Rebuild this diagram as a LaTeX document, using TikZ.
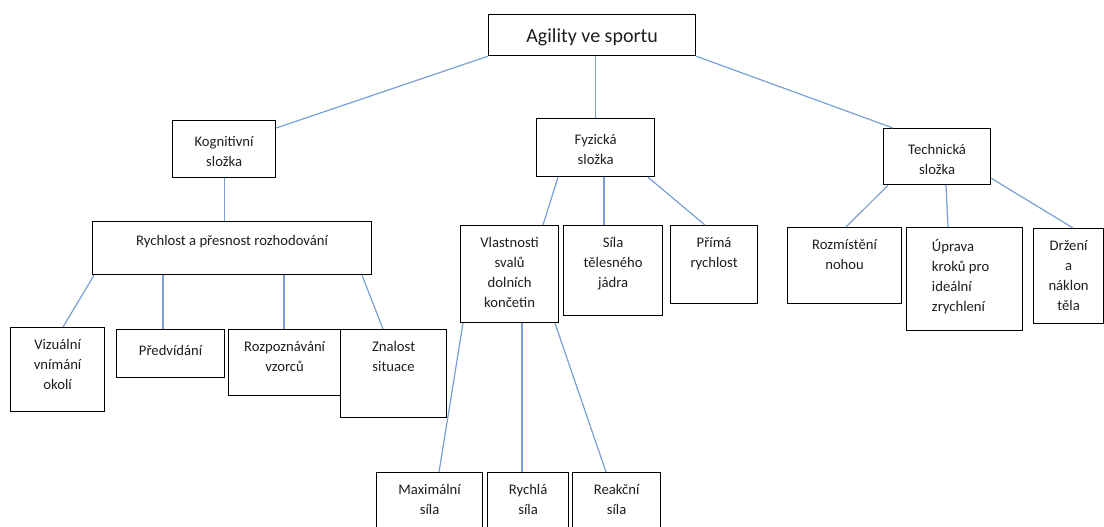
\documentclass[tikz,border=0pt]{standalone}
\usepackage{fontspec}
\setmainfont{Carlito}
\usetikzlibrary{calc}
\definecolor{linkblue}{RGB}{120,160,212}
\definecolor{textgray}{RGB}{30,30,30}
\begin{document}
\begin{tikzpicture}[x=0.75pt, y=-0.75pt,
    box/.style={draw, line width=0.9pt, anchor=north west, inner sep=0pt},
    txt/.style={anchor=north, align=center, inner sep=0pt, yshift=-9pt, text=textgray,
                font=\fontsize{11}{15}\selectfont, execute at begin node=\strut},
    link/.style={draw=linkblue, line width=0.9pt}]
    \useasboundingbox (0,0) rectangle (1104,526);
    \node[box, minimum width=155.25pt, minimum height=30.75pt,
          label={[anchor=base, yshift=-21pt, text=textgray, font=\fontsize{15}{18}\selectfont]north:Agility ve sportu}] (agi) at (488,14) {};
    \node[box, minimum width=77.25pt, minimum height=42.75pt,
          label={[txt, yshift=-3pt]north:Kognitivní\\složka}] (kog) at (172,120) {};
    \node[box, minimum width=88.5pt, minimum height=43.5pt,
          label={[txt, yshift=-3pt]north:Fyzická\\složka}] (fyz) at (536,118) {};
    \node[box, minimum width=80.25pt, minimum height=42pt,
          label={[txt, yshift=-3pt]north:Technická\\složka}] (tech) at (883,128) {};
    \node[box, minimum width=209.25pt, minimum height=39.75pt,
          label={[txt, yshift=1pt]north:Rychlost a přesnost rozhodování}] (rych) at (92,221) {};
    \node[box, minimum width=70.5pt, minimum height=63pt,
          label={[txt]north:Vizuální\\vnímání\\okolí}] (viz) at (10,327) {};
    \node[box, minimum width=81pt, minimum height=36pt,
          label={[txt]north:Předvídání}] (pred) at (116,329) {};
    \node[box, minimum width=84pt, minimum height=49.5pt,
          label={[txt]north:Rozpoznávání\\vzorců}] (roz) at (228,329) {};
    \node[box, minimum width=79.5pt, minimum height=66pt,
          label={[txt]north:Znalost\\situace}] (zna) at (340,329) {};
    \node[box, minimum width=73.5pt, minimum height=72.75pt,
          label={[txt]north:Vlastnosti\\svalů\\dolních\\končetin}] (vla) at (460,225) {};
    \node[box, minimum width=74.25pt, minimum height=67.5pt,
          label={[txt]north:Síla\\tělesného\\jádra}] (sil) at (563,225) {};
    \node[box, minimum width=65.25pt, minimum height=58.5pt,
          label={[txt]north:Přímá\\rychlost}] (pri) at (670,225) {};
    \node[box, minimum width=85.5pt, minimum height=57pt,
          label={[txt]north:Rozmístění\\nohou}] (rozm) at (787,227) {};
    \node[box, minimum width=87pt, minimum height=77.25pt,
          label={[txt, align=left, xshift=-3pt]north:Úprava\\kroků pro\\ideální\\zrychlení}] (upr) at (906,227) {};
    \node[box, minimum width=52.5pt, minimum height=71.25pt,
          label={[txt]north:Držení\\a\\náklon\\těla}] (drz) at (1033,228) {};
    \node[box, minimum width=79.5pt, minimum height=60pt,
          label={[txt]north:Maximální\\síla}] (max) at (376,472) {};
    \node[box, minimum width=60.75pt, minimum height=60pt,
          label={[txt]north:Rychlá\\síla}] (ryf) at (487,472) {};
    \node[box, minimum width=66pt, minimum height=60pt,
          label={[txt]north:Reakční\\síla}] (rea) at (572,472) {};
    % first level
    \path[link] (agi.south west) -- ($(kog.north east)+(0,8)$);
    \path[link] (fyz.north |- agi.south) -- (fyz.north);
    \path[link] (agi.south east) -- ($(tech.north west)+(10,0)$);
    % kognitivni
    \path[link] (kog.south) -- (kog.south |- rych.north);
    \path[link] ($(rych.south west)+(2,0)$) -- ($(viz.north west)+(53,0)$);
    \path[link] ($(rych.south west)+(71,0)$) -- ($(pred.north west)+(47,0)$);
    \path[link] ($(rych.south west)+(192,0)$) -- ($(roz.north west)+(56,0)$);
    \path[link] ($(rych.south west)+(270,0)$) -- ($(zna.north west)+(43,0)$);
    % fyzicka
    \path[link] ($(fyz.south west)+(22,0)$) -- ($(vla.north west)+(83,0)$);
    \path[link] ($(fyz.south west)+(68,0)$) -- ($(sil.north west)+(41,0)$);
    \path[link] ($(fyz.south west)+(112,0)$) -- ($(pri.north west)+(35,0)$);
    \path[link] ($(vla.south west)+(3,0)$) -- ($(max.north west)+(63,0)$);
    \path[link] ($(vla.south west)+(62,0)$) -- ($(ryf.north west)+(35,0)$);
    \path[link] ($(vla.south west)+(95,0)$) -- ($(rea.north west)+(34,0)$);
    % technicka
    \path[link] ($(tech.south west)+(5,0)$) -- ($(rozm.north west)+(59,0)$);
    \path[link] ($(tech.south west)+(63,0)$) -- ($(upr.north west)+(42,0)$);
    \path[link] ($(tech.south east)+(0,-7)$) -- ($(drz.north west)+(40,0)$);
\end{tikzpicture}
\end{document}
